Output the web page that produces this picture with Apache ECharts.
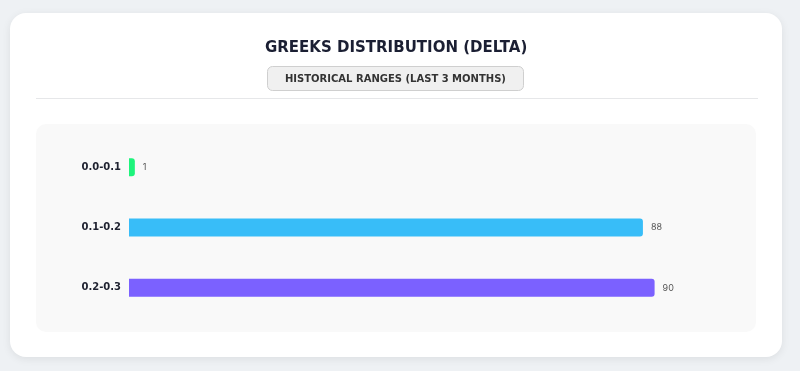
<!DOCTYPE html>
<html>
<head>
<meta charset="utf-8">
<script src="https://cdn.jsdelivr.net/npm/echarts@6/dist/echarts.min.js"></script>
<style>
html,body{margin:0;padding:0;background:#eef1f4;}
#chart{width:800px;height:371px;}
</style>
</head>
<body>
<div id="chart"></div>
<script>
const titleText = 'GREEKS DISTRIBUTION (DELTA)';
const subtitleText = 'HISTORICAL RANGES (LAST 3 MONTHS)';
const categories = ['0.0-0.1', '0.1-0.2', '0.2-0.3'];
const counts = [1, 88, 90];
const barColors = ['#1ef47c', '#38bdf8', '#7b61ff'];

const chart = echarts.init(document.getElementById('chart'), null, {renderer: 'canvas'});
const FONT = '"DejaVu Sans", Inter, sans-serif';
const FONT2 = 'Inter, "Noto Sans", sans-serif';

chart.setOption({
  backgroundColor: '#eef1f4',
  animation: false,
  graphic: [
    {type: 'rect', z: -10, shape: {x: 10, y: 13, width: 772, height: 344, r: 16},
     style: {fill: '#ffffff', shadowBlur: 8, shadowColor: 'rgba(0,0,0,0.08)', shadowOffsetY: 2}},
    {type: 'line', z: -9, shape: {x1: 36, y1: 98.5, x2: 758, y2: 98.5},
     style: {stroke: '#e6e7e9', lineWidth: 1}},
    {type: 'rect', z: -9, shape: {x: 36, y: 124, width: 720, height: 208, r: 10},
     style: {fill: '#f9f9f9'}}
  ],
  title: [
    {text: titleText, left: 265, top: 41, padding: 0,
     textStyle: {fontFamily: FONT, fontSize: 15, fontWeight: 'bold', color: '#1b1f33'}},
    {text: subtitleText, left: 267, top: 66,
     padding: [8, 18, 7, 18], backgroundColor: '#f0f0f0', borderColor: '#cfcfcf',
     borderWidth: 1, borderRadius: 5,
     textStyle: {fontFamily: FONT, fontSize: 10, fontWeight: 'bold', color: '#333333'}}
  ],
  grid: {left: 129, right: 87, top: 137, bottom: 53, containLabel: false},
  xAxis: {type: 'value', min: 0, max: 100, show: false},
  yAxis: {
    type: 'category', data: categories, inverse: true,
    axisLine: {show: false}, axisTick: {show: false},
    axisLabel: {margin: 8, fontFamily: FONT, fontSize: 10, fontWeight: 'bold', color: '#1f2230'}
  },
  series: [{
    type: 'bar', barWidth: 18,
    data: counts.map((v, i) => ({value: v, itemStyle: {color: barColors[i]}})),
    itemStyle: {borderRadius: [0, 3, 3, 0]},
    label: {show: true, position: 'right', distance: 8, fontFamily: FONT2, fontSize: 9, color: '#555555'}
  }]
});
</script>
</body>
</html>
